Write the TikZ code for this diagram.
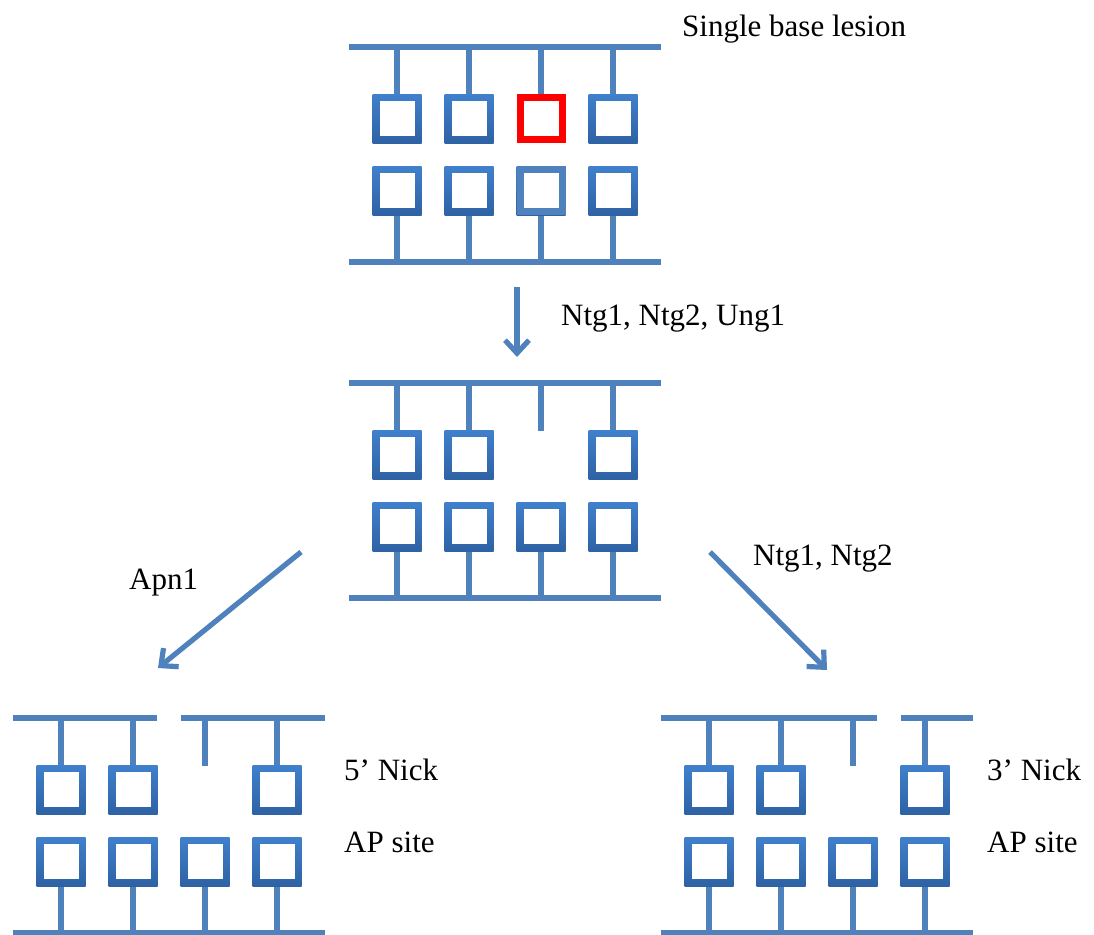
\documentclass[tikz,border=0pt]{standalone}
\usepackage{fontspec}
\setmainfont{Liberation Serif}
\usetikzlibrary{arrows.meta}
\definecolor{dnablue}{RGB}{79,129,189}
\definecolor{sqtop}{RGB}{64,128,204}
\definecolor{sqbot}{RGB}{46,98,164}
\tikzset{
  bb/.style={draw=dnablue, line width=5.2pt},
  arr/.style={draw=dnablue, line width=5.2pt, -{Straight Barb[length=13pt,width=24pt]}},
  lbl/.style={anchor=base west, inner sep=0pt, font=\fontsize{31}{37}\selectfont},
}
\newcommand\basesq[2]{%
  \shade[top color=sqtop, bottom color=sqbot] ({#1-24.5},{#2-24.5}) rectangle ({#1+24.5},{#2+24.5});
  \fill[white] ({#1-17.5},{#2-17.5}) rectangle ({#1+17.5},{#2+17.5});
}
\begin{document}
\begin{tikzpicture}[x=1pt,y=-1pt]
\fill[white] (0,0) rectangle (1094,934);
\useasboundingbox (0,0) rectangle (1094,934);

% ---------- top: single base lesion ----------
\begin{scope}[shift={(349,47)}]
  \draw[bb] (0,0) -- (312,0);
  \draw[bb] (0,215) -- (312,215);
  \foreach \x in {48,120,192,264}{
    \draw[bb] (\x,0) -- (\x,50);
    \draw[bb] (\x,165) -- (\x,215);
    \basesq{\x}{143.5}
  }
  \foreach \x in {48,120,264}{\basesq{\x}{71.5}}
  \draw[red, line width=7pt] (171,50.5) rectangle (213,92.5);
  \draw[dnablue, line width=7pt] (171,122.5) rectangle (213,164.5);
\end{scope}

% ---------- middle: base removed ----------
\begin{scope}[shift={(349,383)}]
  \draw[bb] (0,0) -- (312,0);
  \draw[bb] (0,215) -- (312,215);
  \foreach \x in {48,120,264}{
    \draw[bb] (\x,0) -- (\x,50);
    \basesq{\x}{71.5}
  }
  \draw[bb] (192,0) -- (192,48);
  \foreach \x in {48,120,192,264}{
    \draw[bb] (\x,165) -- (\x,215);
    \basesq{\x}{143.5}
  }
\end{scope}

% ---------- bottom left: 5' nick ----------
\begin{scope}[shift={(13,718)}]
  \draw[bb] (0,0) -- (144,0);
  \draw[bb] (168,0) -- (312,0);
  \draw[bb] (0,215) -- (312,215);
  \foreach \x in {48,120,264}{
    \draw[bb] (\x,0) -- (\x,50);
    \basesq{\x}{71.5}
  }
  \draw[bb] (192,0) -- (192,48);
  \foreach \x in {48,120,192,264}{
    \draw[bb] (\x,165) -- (\x,215);
    \basesq{\x}{143.5}
  }
\end{scope}

% ---------- bottom right: 3' nick ----------
\begin{scope}[shift={(661,718)}]
  \draw[bb] (0,0) -- (216,0);
  \draw[bb] (240,0) -- (312,0);
  \draw[bb] (0,215) -- (312,215);
  \foreach \x in {48,120,264}{
    \draw[bb] (\x,0) -- (\x,50);
    \basesq{\x}{71.5}
  }
  \draw[bb] (192,0) -- (192,48);
  \foreach \x in {48,120,192,264}{
    \draw[bb] (\x,165) -- (\x,215);
    \basesq{\x}{143.5}
  }
\end{scope}

% ---------- labels ----------
\node[lbl] (t1) at (682,37) {Single base lesion};
\node[lbl] (t2) at (561,325) {Ntg1, Ntg2, Ung1};
\node[lbl] (t3) at (129,589) {Apn1};
\node[lbl] (t4) at (753,565) {Ntg1, Ntg2};
\node[lbl] (t5) at (344,780) {5’ Nick};
\node[lbl] (t6) at (344,852) {AP site};
\node[lbl] (t7) at (987,780) {3’ Nick};
\node[lbl] (t8) at (987,852) {AP site};

% ---------- arrows ----------
\coordinate (d0) at (517,287);
\coordinate (d1) at (517,357);
\coordinate (l0) at (301,552);
\coordinate (l1) at (158,668);
\coordinate (r0) at (710,552);
\coordinate (r1) at (827,670);
\draw[arr] (d0) -- (d1);
\draw[arr] (l0) -- (l1);
\draw[arr] (r0) -- (r1);
\end{tikzpicture}
\end{document}
